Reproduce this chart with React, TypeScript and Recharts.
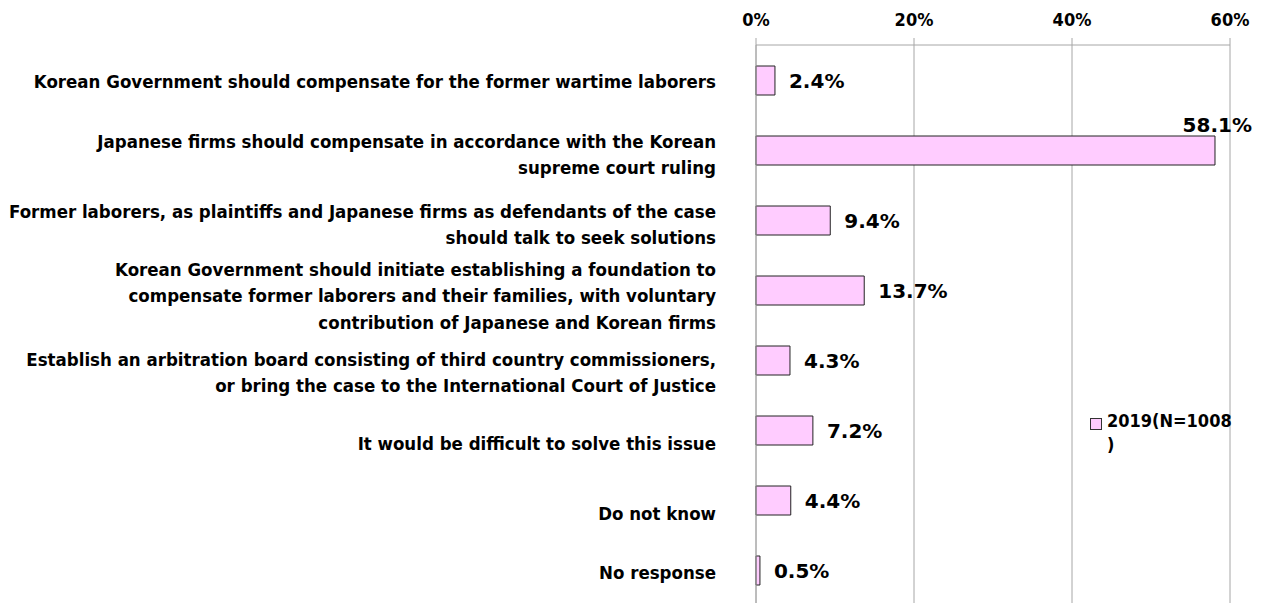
import { BarChart, Bar, XAxis, YAxis, CartesianGrid, Legend, LabelList } from "recharts";

const categories: string[][] = [
  ["Korean Government should compensate for the former wartime laborers"],
  ["Japanese firms should compensate in accordance with the Korean", "supreme court ruling"],
  ["Former laborers, as plaintiffs and Japanese firms as defendants of the case", "should talk to seek solutions"],
  [
    "Korean Government should initiate establishing a foundation to",
    "compensate former laborers and their families, with voluntary",
    "contribution of Japanese and Korean firms",
  ],
  [
    "Establish an arbitration board consisting of third country commissioners,",
    "or bring the case to the International Court of Justice",
  ],
  ["It would be difficult to solve this issue"],
  ["Do not know"],
  ["No response"],
];

const values2019 = [2.4, 58.1, 9.4, 13.7, 4.3, 7.2, 4.4, 0.5];
const xTicks = [0, 20, 40, 60];
const seriesName = "2019(N=1008)";

const data = categories.map((lines, i) => ({ key: `c${i}`, lines, value: values2019[i] }));

// the original places some category labels a little below their bar
const labelNudge = [1, 4, 4, 5, 12, 13, 13, 2];

const labelFont = "'DejaVu Sans Condensed', 'Liberation Sans Narrow', sans-serif";
const valueFont = "'DejaVu Sans', Verdana, sans-serif";

function CategoryTick(props: any) {
  const { x, y, payload } = props;
  const lines: string[] = data[payload.index]?.lines ?? [];
  const lh = 26.5;
  const start = y + (labelNudge[payload.index] ?? 0) - ((lines.length - 1) * lh) / 2;
  return (
    <text x={x} y={start} textAnchor="end" dominantBaseline="central" fontFamily={labelFont} fontWeight="bold" fontSize={18.5} fill="#000">
      {lines.map((l, i) => (
        <tspan key={i} x={x} y={start + i * lh}>
          {l}
        </tspan>
      ))}
    </text>
  );
}

function ValueLabel(props: any) {
  const { x, y, width, height, value } = props;
  const txt = `${Number(value).toFixed(1)}%`;
  // the longest bar has no room on the right, so its label sits above its end
  if (x + width > 1150) {
    return (
      <text x={x + width + 37} y={y - 11} textAnchor="end" dominantBaseline="central" fontFamily={valueFont} fontWeight="bold" fontSize={20} fill="#000">
        {txt}
      </text>
    );
  }
  return (
    <text x={x + width + 14} y={y + height / 2} dominantBaseline="central" fontFamily={valueFont} fontWeight="bold" fontSize={20} fill="#000">
      {txt}
    </text>
  );
}

function LegendBox() {
  // legend text wraps before the closing bracket, like the original
  return (
    <div style={{ display: "flex", alignItems: "flex-start", fontFamily: labelFont, fontWeight: "bold", fontSize: 18, color: "#000" }}>
      <div style={{ width: 10, height: 10, background: "#FFCCFF", border: "1px solid #333", marginTop: 4, marginRight: 5, flexShrink: 0 }} />
      <div style={{ lineHeight: "24px", marginTop: -5, whiteSpace: "nowrap" }}>
        {seriesName.slice(0, -1)}
        <br />
        {seriesName.slice(-1)}
      </div>
    </div>
  );
}

export default function App() {
  return (
    <div style={{ width: 1253, height: 600, background: "#fff" }}>
      <BarChart
        width={1253}
        height={600}
        data={data}
        layout="vertical"
        margin={{ top: 0, right: 31, bottom: 3, left: 0 }}
        barSize={29}
      >
        <CartesianGrid horizontal={false} stroke="#a6a6a6" />
        <XAxis
          type="number"
          orientation="top"
          domain={[0, 60]}
          ticks={xTicks}
          tickFormatter={(v: number) => `${v}%`}
          height={37}
          tickSize={7}
          tickMargin={12}
          stroke="#a6a6a6"
          tick={{ fill: "#000", fontFamily: labelFont, fontWeight: "bold", fontSize: 18 }}
        />
        <YAxis
          type="category"
          dataKey="key"
          width={748}
          tickSize={0}
          tickMargin={40}
          axisLine={{ stroke: "#a6a6a6" }}
          tickLine={false}
          tick={<CategoryTick />}
          interval={0}
        />
        <Legend
          layout="vertical"
          verticalAlign="middle"
          align="center"
          wrapperStyle={{ left: 1082, top: 406, width: 160 }}
          content={() => <LegendBox />}
        />
        <Bar dataKey="value" name={seriesName} fill="#FFCCFF" stroke="#222" strokeWidth={1} isAnimationActive={false}>
          <LabelList dataKey="value" content={<ValueLabel />} />
        </Bar>
      </BarChart>
    </div>
  );
}
